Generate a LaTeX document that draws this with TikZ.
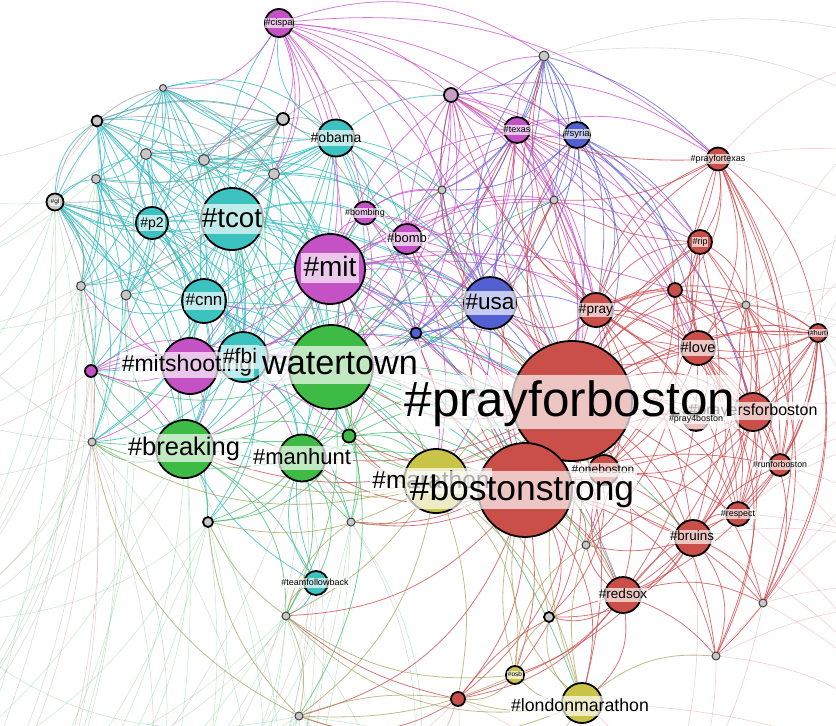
\documentclass[tikz,border=0pt]{standalone}
\usepackage{fontspec}
\setmainfont{Liberation Sans}
\definecolor{cred}{RGB}{201,79,72}
\definecolor{cgreen}{RGB}{61,187,68}
\definecolor{cmag}{RGB}{196,82,196}
\definecolor{cteal}{RGB}{61,194,194}
\definecolor{cblue}{RGB}{82,96,210}
\definecolor{colive}{RGB}{200,196,72}
\definecolor{cgrey}{RGB}{200,200,200}
\definecolor{eteal}{RGB}{60,190,195}
\definecolor{emag}{RGB}{200,80,200}
\definecolor{ered}{RGB}{205,70,75}
\definecolor{egreen}{RGB}{70,190,110}
\definecolor{eblue}{RGB}{80,100,215}
\definecolor{eolive}{RGB}{165,160,90}
\definecolor{egrey}{RGB}{140,140,140}
\pgfdeclarelayer{edgelayer}
\pgfsetlayers{edgelayer,main}
\newcommand\hn[5]{\node[hc=#4,fill=#5] (#1) at (#2,#3) {};}
\newcommand\hsn[5]{\node[hs=#4,fill=#5] (#1) at (#2,#3) {};}
\newcommand\hl[5]{\pgfmathsetmacro\lth{0.84*#4}\pgfmathsetmacro\ltd{0.26*#4}\pgfmathsetmacro\lxs{0.08*#4}%
\node[lbl,font=\fontsize{#4pt}{#4pt}\selectfont,text height=\lth pt,text depth=\ltd pt,inner xsep=\lxs pt,inner ysep=0pt] (L#1) at (#2,#3) {#5};}
\newcommand\hub[3]{\foreach \tg [count=\ii] in {#3}{\pgfmathtruncatemacro\bb{12+mod(\ii*7,20)}\draw[#2] (#1) to[bend left=\bb] (\tg);}}
\begin{document}
\begin{tikzpicture}[x=1pt,y=-1pt,
 hc/.style={circle,draw=black,line width=1.8pt,inner sep=0pt,minimum size=#1},
 hs/.style={circle,draw=black!75,line width=1pt,inner sep=0pt,minimum size=#1},
 lbl/.style={rectangle,fill=white,fill opacity=0.68,text opacity=1,text=black},
 eTeal/.style={draw=eteal,opacity=0.8,line width=0.8pt},
 eMag/.style={draw=emag,opacity=0.75,line width=0.8pt},
 eRed/.style={draw=ered,opacity=0.75,line width=0.8pt},
 eGreen/.style={draw=egreen,opacity=0.75,line width=0.8pt},
 eBlue/.style={draw=eblue,opacity=0.75,line width=0.8pt},
 eOlive/.style={draw=eolive,opacity=0.7,line width=0.8pt},
 eGrey/.style={draw=egrey,opacity=0.6,line width=0.8pt},
 eFaint/.style={draw=egrey,opacity=0.3,line width=0.6pt},
 eFaintG/.style={draw=egreen,opacity=0.3,line width=0.6pt},
 eFaintR/.style={draw=ered,opacity=0.26,line width=0.6pt}]
\useasboundingbox (0,0) rectangle (836,726);
% outside anchors for long edges
\coordinate (o1) at (-150,150);
\coordinate (o2) at (-150,450);
\coordinate (o3) at (-100,800);
\coordinate (o4) at (150,850);
\coordinate (o5) at (400,850);
\coordinate (o6) at (650,850);
\coordinate (o7) at (950,800);
\coordinate (o8) at (1000,450);
\coordinate (o9) at (1000,200);
\coordinate (o10) at (950,60);
\coordinate (o11) at (-60,620);
\coordinate (o12) at (20,900);
\coordinate (o13) at (-220,300);
\coordinate (o14) at (230,960);
\coordinate (o15) at (1050,330);
\coordinate (o16) at (1000,620);
\coordinate (o17) at (-120,980);
\coordinate (o18) at (80,1050);
% nodes
\hn{cispa}{279}{23}{28}{cmag}
\hsn{s1}{163}{88}{7}{cgrey}
\hn{s2}{97}{121}{11}{cgrey}
\hn{s3}{283}{119}{12}{cgrey}
\hn{obama}{336}{138}{37}{cteal}
\hsn{s4}{146}{154}{11}{cgrey}
\hsn{s5}{204}{160}{11}{cgrey}
\hsn{s6}{96}{179}{9}{cgrey}
\hsn{s7}{274}{174}{11}{cgrey}
\hn{gl}{55}{202}{17}{cgrey}
\hn{p2}{152}{223}{32}{cteal}
\hn{tcot}{232}{219}{62}{cteal}
\hn{bombing}{365}{213}{23}{cmag}
\hn{bomb}{407}{239}{30}{cmag}
\hn{mit}{330}{269}{70}{cmag}
\hsn{s8}{81}{286}{9}{cgrey}
\hsn{s9}{126}{295}{10}{cgrey}
\hn{cnn}{204}{301}{44}{cteal}
\hsn{s10}{544}{56}{10}{cgrey}
\hn{s11}{451}{95}{14}{cmag!35!cgrey}
\hn{texas}{517}{130}{26}{cmag}
\hn{syria}{577}{135}{26}{cblue}
\hn{pft}{718}{159}{23}{cred}
\hsn{s12}{442}{190}{8}{cgrey}
\hsn{s13}{554}{200}{8}{cgrey}
\hn{rip}{700}{242}{24}{cred}
\hn{s14}{675}{290}{14}{cred}
\hsn{s15}{746}{305}{8}{cgrey}
\hn{usa}{490}{303}{52}{cblue}
\hn{pray}{596}{310}{34}{cred}
\hn{hurt}{818}{333}{18}{cred}
\hn{love}{698}{348}{34}{cred}
\hn{s16}{416}{333}{11}{cblue}
\hn{s17}{91}{371}{12}{cmag}
\hsn{s18}{92}{442}{8}{cgrey}
\hn{ms}{190}{366}{56}{cmag}
\hn{fbi}{243}{357}{50}{cteal}
\hn{wt}{331}{367}{84}{cgreen}
\hn{brk}{185}{449}{58}{cgreen}
\hn{mh}{302}{458}{47}{cgreen}
\hn{s19}{349}{436}{13}{cgreen}
\hn{s20}{208}{522}{10}{cgrey}
\hsn{s21}{351}{522}{8}{cgrey}
\hn{tfb}{316}{583}{24}{cteal}
\hsn{s22}{286}{616}{8}{cgrey}
\hsn{s23}{299}{716}{8}{cgrey}
\hn{mar}{436}{481}{64}{colive}
\hn{oneb}{604}{470}{30}{cred}
\hn{p4b}{696}{418}{26}{cred}
\hn{psb}{753}{412}{38}{cred}
\hn{pfb}{572}{401}{120}{cred}
\hn{bs}{525}{490}{94}{cred}
\hn{rfb}{780}{465}{22}{cred}
\hn{respect}{738}{514}{24}{cred}
\hn{bruins}{693}{538}{36}{cred}
\hsn{s24}{586}{545}{8}{cgrey}
\hn{redsox}{623}{595}{36}{cred}
\hsn{s25}{763}{603}{8}{cgrey}
\hn{s26}{549}{617}{10}{cgrey}
\hsn{s27}{716}{656}{8}{cgrey}
\hn{osb}{515}{675}{18}{colive}
\hn{s28}{458}{699}{14}{cred}
\hn{lm}{582}{703}{40}{colive}
% edges
\begin{pgfonlayer}{edgelayer}
\begin{scope}
\clip (0,0) rectangle (836,726);
% faint long edges
\hub{s18}{eFaint}{o1,o2,o3,o4,o11,o12,o13,o14,o17,o18}
\hub{s23}{eFaintG}{o3,o4,o5,o12,o11,o6,o14,o17,o18}
\hub{gl}{eFaintG}{o1,o2,o11,o13,o3,o17}
\hub{s2}{eFaint}{o1,o13,o2,o11}
\hub{s6}{eFaintG}{o13,o2,o11,o3}
\hub{s8}{eFaint}{o2,o3,o11,o12,o13,o17}
\hub{s20}{eFaintG}{o3,o4,o12,o11,o14,o17,o18}
\hub{lm}{eFaintR}{o5,o6,o7,o14}
\hub{s28}{eFaintR}{o4,o5,o6,o14,o18}
\hub{s27}{eFaintR}{o6,o7,o8,o16}
\hub{hurt}{eFaint}{o8,o9,o7,o10,o15,o16}
\hub{psb}{eFaintR}{o8,o9,o15}
\hub{rfb}{eFaintR}{o7,o8,o15,o16}
\hub{pft}{eFaintR}{o9,o10,o15}
\hub{s10}{eFaint}{o10,o9}
\hub{s15}{eFaint}{o9,o8,o10,o15}
\hub{s22}{eFaintG}{o3,o4,o5,o12,o14,o17,o18}
\hub{tfb}{eFaint}{o4,o3,o14,o18}
\hub{s25}{eFaintR}{o7,o8,o6,o16}
\hub{s9}{eFaintG}{o2,o11,o12,o13,o17}
\hub{brk}{eFaintG}{o11,o12,o3,o14,o17,o18}
\hub{mh}{eFaint}{o4,o5,o12,o14,o18}
\hub{s17}{eFaintR}{o2,o11,o12,o17}
\hub{respect}{eFaintR}{o16,o8,o7}
\hub{bruins}{eFaintR}{o7,o16,o6}
\hub{s21}{eFaintG}{o4,o5,o14,o18}
% teal cluster
\hub{tcot}{eTeal}{p2,cnn,obama,gl,s1,s2,s3,s4,s5,s6,s7,s8,s9,fbi,mit,wt,ms,brk,bomb,usa,cispa,mh,s17,s18,s20,pfb,bs,s16,bombing}
\hub{p2}{eTeal}{gl,s1,s2,s4,s5,s6,s8,s9,cnn,obama,fbi,wt,ms,brk,s17,s3,mit,usa}
\hub{cnn}{eTeal}{gl,s2,s4,s6,s8,s9,obama,fbi,wt,mit,ms,brk,mh,s17,s18,s1,s3,s7,usa,pfb,s19}
\hub{obama}{eTeal}{s1,s2,s3,s4,s5,s6,s7,gl,fbi,wt,mit,bomb,usa,cispa,ms,brk,bombing,s11,pfb,s16,s12}
\hub{gl}{eTeal}{s1,s2,s4,s6,s8,s9,s17,s18,wt,ms,fbi,brk,s20}
\hub{s1}{eTeal}{s2,s4,s5,s6,s3,s7,fbi,wt,ms,s9,obama,cnn,mit}
\hub{s2}{eTeal}{s4,s6,s8,s3,s5,fbi,ms,wt,cnn,s9}
\hub{s4}{eTeal}{s5,s6,s7,s9,fbi,wt,mit,cnn,s8}
\hub{s5}{eTeal}{s7,s3,s9,wt,mit,fbi,brk,usa}
\hub{s7}{eTeal}{s3,wt,mit,fbi,usa,ms,cnn,bomb}
\hub{s6}{eTeal}{s8,s9,s17,fbi,ms,brk,s18}
\hub{fbi}{eTeal}{wt,ms,brk,mh,mit,usa,pfb,s20,s21,s18,s19,bs,mar}
\hub{tfb}{eTeal}{s22,mh,brk,wt}
\hub{s3}{eGrey}{s1,s2,s4,s5,s6,s7,gl,s8,s9,obama,s11,bombing}
\hub{gl}{eGrey}{s2,s8,s18,cnn}
\hub{s2}{eGrey}{s3,s7,s1}
% magenta
\hub{cispa}{eMag}{s11,s10,texas,mit,bomb,bombing,s3,s7,obama,usa,s12,syria,pft,s1,wt,pfb,tcot,s5}
\hub{mit}{eMag}{wt,ms,bomb,bombing,texas,s11,usa,pfb,bs,brk,mh,s17,pray,s12,s13,s16,mar,fbi,cnn,oneb,love,rip,s14,redsox,s19}
\hub{texas}{eMag}{s10,s11,s12,s13,usa,pray,pfb,bs,love,rip,mit,bomb,s16,wt,oneb,pft,syria,s14,psb}
\hub{bomb}{eMag}{bombing,usa,s11,s12,s16,pfb,wt,ms,bs,texas,syria,mar,s13,pray}
\hub{ms}{eMag}{s17,brk,wt,fbi,mh,s18,pfb,bs,s19,mit,s9,s8}
\hub{s11}{eMag}{s10,s12,s13,usa,pft,rip,pray,pfb,love,wt,mit,s16,syria,s14}
\hub{bombing}{eMag}{s12,usa,s16,wt,pfb,bs}
\hub{s17}{eMag}{ms,fbi,wt,brk}
% blue
\hub{usa}{eBlue}{syria,s10,s16,s12,s13,wt,pfb,bs,pray,s11,texas,mit,fbi,cnn,mar}
\hub{syria}{eBlue}{s10,s13,s16,usa,pfb,bs,love,pray,rip,s12,s14,psb}
\hub{s10}{eBlue}{s11,s12,texas,syria,s13,pft,pray,usa,wt,s16}
\hub{s16}{eBlue}{wt,pfb,bs,mit,fbi}
% red
\hub{pfb}{eRed}{pray,love,rip,pft,psb,p4b,rfb,respect,bruins,redsox,oneb,hurt,s14,s15,s24,s25,s26,s27,s28,bs,mar,s13,lm,osb,s21,mh,wt,mit,usa,texas,syria,s16,bomb,s11,s10,brk,s19,s12}
\hub{bs}{eRed}{pray,love,rip,psb,p4b,rfb,respect,bruins,redsox,oneb,hurt,s14,s15,s24,s25,s26,s27,s28,lm,osb,mar,s23,wt,mh,s19,s21,s22,usa,s16,s13,texas}
\hub{pray}{eRed}{love,rip,s14,s15,pft,s13,psb,oneb,bruins,respect,hurt,p4b,s24,usa,s11,s10,texas}
\hub{love}{eRed}{rip,s14,s15,hurt,psb,rfb,respect,bruins,pft,p4b,s27,redsox,s13,usa,oneb}
\hub{pft}{eRed}{rip,s14,s15,hurt,love,psb,rfb,respect,s13,s25,pray,s11}
\hub{hurt}{eRed}{s15,psb,rfb,respect,bruins,love,s25,s27,p4b,s14,redsox,s24,oneb,pray}
\hub{psb}{eRed}{rfb,respect,bruins,redsox,s25,s27,p4b,oneb,s15,s14,rip}
\hub{bruins}{eRed}{redsox,respect,rfb,s25,s27,s24,oneb,s26,s28}
\hub{redsox}{eRed}{s24,s26,s27,s28,lm,respect,s25,oneb,osb}
\hub{rip}{eRed}{s14,s15,s13,rfb,respect,bruins,oneb}
\hub{s15}{eRed}{s14,rfb,respect,bruins,s25,hurt,redsox}
\hub{s14}{eRed}{oneb,s24,respect,rfb}
\hub{s28}{eRed}{redsox,s23,s22}
% green
\hub{wt}{eGreen}{brk,mh,s19,s18,s20,s21,mar,pfb,bs,s17,s16,ms,oneb,usa,s22,s23,mit,cnn,tcot,bomb,bombing,s7,s5,obama,s12,s13,bruins,redsox,lm,s24}
\hub{brk}{eGreen}{mh,s18,s20,s21,s17,mar,s19,s22,tfb,s9,s8,cnn}
\hub{mh}{eGreen}{s19,s20,s21,s22,mar,bs,pfb,tfb,s18,usa}
\hub{s19}{eGreen}{s21,mar,pfb,bs,s20,usa}
% olive
\hub{mar}{eOlive}{lm,osb,s22,s23,s26,s28,s20,s21,s24,s18,redsox,pfb,wt,mh,brk,s19,oneb,bruins}
\hub{lm}{eOlive}{osb,s26,s28,s23,s22,s24,s27,bs,pfb}
\hub{osb}{eOlive}{s26,s28,s23,s22,s24,bs}
\hub{s22}{eOlive}{s23,tfb,s20,s21}
\hub{s23}{eOlive}{s20,s18,s28}
\end{scope}
\end{pgfonlayer}
% labels
\hl{cispa}{279}{23}{9.5}{\#cispa}
\hl{gl}{55}{202}{6.5}{\#gl}
\hl{obama}{336}{138}{14}{\#obama}
\hl{p2}{152}{223}{14}{\#p2}
\hl{tcot}{232}{219}{27.7}{\#tcot}
\hl{bombing}{365}{213}{9}{\#bombing}
\hl{bomb}{407}{239}{13}{\#bomb}
\hl{mit}{330}{268}{28}{\#mit}
\hl{cnn}{204}{301}{17}{\#cnn}
\hl{texas}{517}{130}{9}{\#texas}
\hl{syria}{577}{134}{9.5}{\#syria}
\hl{pft}{718}{159}{9}{\#prayfortexas}
\hl{rip}{700}{242}{9}{\#rip}
\hl{usa}{490}{303}{22.5}{\#usa}
\hl{pray}{596}{310}{13.6}{\#pray}
\hl{hurt}{818}{333}{7}{\#hurt}
\hl{love}{698}{348}{14.6}{\#love}
\hl{ms}{187}{365}{23}{\#mitshooting}
\hl{fbi}{240}{357}{21}{\#fbi}
\hl{wt}{340}{365}{34.2}{watertown}
\hl{brk}{184}{448}{25.5}{\#breaking}
\hl{mh}{302}{458}{22}{\#manhunt}
\hl{tfb}{315}{583}{9}{\#teamfollowback}
\hl{mar}{431}{481}{24.5}{\#marathon}
\hl{oneb}{603}{470}{12}{\#oneboston}
\hl{bs}{522}{490}{35.4}{\#bostonstrong}
\hl{psb}{753}{411}{16}{\#prayersforboston}
\hl{pfb}{570}{402}{49.5}{\#prayforboston}
\hl{p4b}{696}{419}{8.9}{\#pray4boston}
\hl{rfb}{780}{465}{8.75}{\#runforboston}
\hl{respect}{738}{514}{8.9}{\#respect}
\hl{bruins}{692}{537}{13.4}{\#bruins}
\hl{redsox}{623}{595}{13.5}{\#redsox}
\hl{osb}{515}{675}{6.5}{\#osb}
\hl{lm}{580}{706}{17.7}{\#londonmarathon}
\end{tikzpicture}
\end{document}
